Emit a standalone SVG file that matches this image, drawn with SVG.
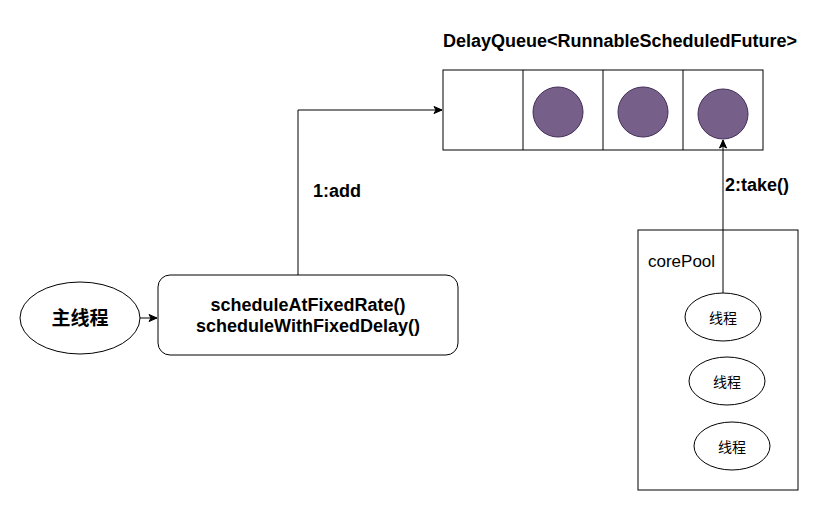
<svg xmlns="http://www.w3.org/2000/svg" width="821" height="511" viewBox="0 0 821 511">
<defs>
<style>
.s{fill:#fff;stroke:#000;stroke-width:1}
.dot{fill:#76608a;stroke:#432d57;stroke-width:1}
.t{font-family:"Liberation Sans","Noto Sans CJK SC",sans-serif;fill:#000}
.b{font-weight:bold}
.c{stroke:#000;stroke-width:1;fill:none}
</style>
<marker id="ah" markerWidth="10" markerHeight="10" refX="9" refY="5" orient="auto" markerUnits="userSpaceOnUse">
<path d="M1,1.5 L9,5 L1,8.5 L3,5 Z" fill="#000" stroke="#000"/>
</marker>
</defs>
<rect width="821" height="511" fill="#fff"/>
<g id="queue">
<text class="t b" x="620" y="47" font-size="18" text-anchor="middle">DelayQueue&lt;RunnableScheduledFuture&gt;</text>
<rect class="s" x="443" y="70" width="320" height="80"/>
<line class="c" x1="523" y1="70" x2="523" y2="150"/>
<line class="c" x1="603" y1="70" x2="603" y2="150"/>
<line class="c" x1="683" y1="70" x2="683" y2="150"/>
<circle class="dot" cx="558" cy="112" r="25"/>
<circle class="dot" cx="643" cy="112" r="25"/>
<circle class="dot" cx="723" cy="114" r="25"/>
</g>
<g id="main">
<ellipse class="s" cx="80" cy="318" rx="60" ry="36"/>
<text class="t b" x="80" y="325" font-size="19" text-anchor="middle">主线程</text>
</g>
<g id="schedule">
<rect class="s" x="158" y="275" width="300" height="80" rx="12"/>
<text class="t b" x="308" y="311" font-size="18" text-anchor="middle">scheduleAtFixedRate()</text>
<text class="t b" x="308" y="332" font-size="18" text-anchor="middle">scheduleWithFixedDelay()</text>
</g>
<g id="corePool">
<rect class="s" x="638" y="230" width="160" height="260"/>
<text class="t" x="648" y="267" font-size="17" fill="#333">corePool</text>
</g>
<g id="t1">
<ellipse class="s" cx="723" cy="317" rx="38" ry="24"/>
<text class="t" x="723" y="323" font-size="14" text-anchor="middle">线程</text>
</g>
<g id="t2">
<ellipse class="s" cx="727" cy="381" rx="38" ry="24"/>
<text class="t" x="727" y="387" font-size="14" text-anchor="middle">线程</text>
</g>
<g id="t3">
<ellipse class="s" cx="732" cy="446" rx="38" ry="24"/>
<text class="t" x="732" y="452" font-size="14" text-anchor="middle">线程</text>
</g>
<g id="connectors">
<line class="c" x1="140" y1="318" x2="157" y2="318" marker-end="url(#ah)"/>
<polyline class="c" points="298,275 298,110 442,110" marker-end="url(#ah)"/>
<text class="t b" x="313" y="197" font-size="18">1:add</text>
<line class="c" x1="723" y1="293" x2="723" y2="140" marker-end="url(#ah)"/>
<text class="t b" x="725" y="191" font-size="18">2:take()</text>
</g>
</svg>
